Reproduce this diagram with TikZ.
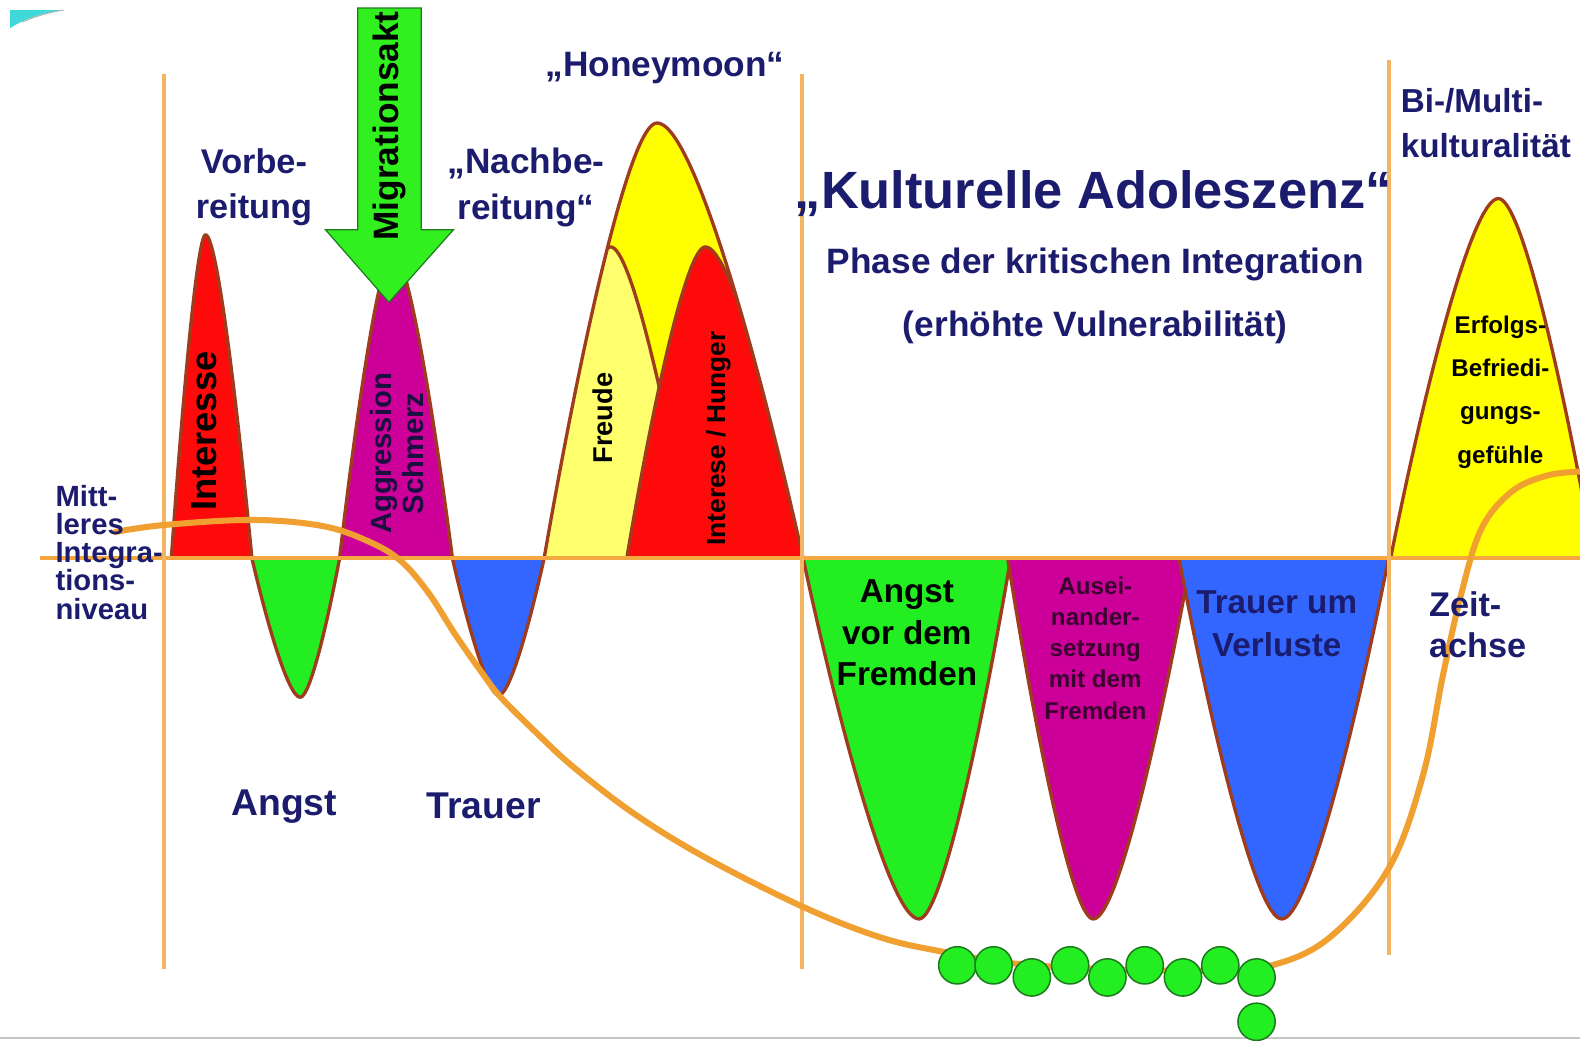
\documentclass[tikz,border=0pt]{standalone}
\usepackage{fontspec}
\setmainfont{Liberation Sans}
\definecolor{navy}{HTML}{1C1C6E}
\definecolor{edge}{HTML}{A03C1E}
\definecolor{curvecol}{HTML}{F0A030}
\definecolor{vlinecol}{HTML}{F3B562}
\definecolor{axiscol}{HTML}{F5A742}
\definecolor{hred}{HTML}{FF0A0A}
\definecolor{hgreen}{HTML}{22EE22}
\definecolor{hmag}{HTML}{CC0099}
\definecolor{hblue}{HTML}{3366FF}
\definecolor{hyel}{HTML}{FFFF00}
\definecolor{hlyel}{HTML}{FFFF6E}
\definecolor{circedge}{HTML}{1E7A1E}
\definecolor{ausc}{HTML}{3A0030}
\definecolor{aggc}{HTML}{1A1040}
\definecolor{swoosh}{HTML}{40D8D8}
\newcommand\myfs[2]{\fontsize{#1}{#2}\selectfont\bfseries}
\newcommand\hump[4]{(#1,554) .. controls ({#1+0.3*(#2-#1)},{554+0.45*(#3-554)}) and ({#1+0.75*(#2-#1)},#3) .. (#2,#3) .. controls ({#2+0.25*(#4-#2)},#3) and ({#4-0.3*(#4-#2)},{554+0.45*(#3-554)}) .. (#4,554)}
\tikzset{
  outl/.style={draw=edge, line width=3.3, line join=round},
  vline/.style={draw=vlinecol, line width=4},
  txt/.style={inner sep=0, align=center, text=navy},
  dot/.style={circle, draw=circedge, line width=1.5, fill=hgreen, minimum size=37, inner sep=0},
}
\begin{document}
\begin{tikzpicture}[x=1pt, y=-1pt]
\useasboundingbox (0,0) rectangle (1568,1033);
\fill[white] (0,0) rectangle (1568,1033);
\begin{scope}
\clip (0,0) rectangle (1568,1033);
% swoosh
\fill[swoosh] (10,10) -- (63,10) .. controls (40,13) and (22,20) .. (10,28) -- cycle;
\draw[gray!60, line width=1] (22,22) .. controls (35,16) and (50,12) .. (63,10);
\draw[gray!45, line width=2] (0,1030) -- (1568,1030);
% early humps
\path[fill=hred, outl] \hump{170}{204}{233}{250};
\path[fill=hgreen, outl] \hump{250}{298}{692}{337};
\path[fill=hmag, outl] \hump{337}{390}{250}{449};
\path[fill=hblue, outl] \hump{449}{495}{690}{540};
% honeymoon
\path[fill=hyel] \hump{540}{652}{122}{797};
\begin{scope}
\clip \hump{540}{652}{122}{797};
\path[fill=hlyel, outl] \hump{536}{606}{245}{688};
\path[fill=hred, outl] \hump{622}{700}{245}{800};
\end{scope}
\path[outl] \hump{540}{652}{122}{797};
% kulturelle adoleszenz troughs
\path[fill=hgreen, outl] \hump{797}{912}{912}{1003};
\path[fill=hmag, outl] \hump{1000}{1085}{912}{1182};
\path[fill=hblue, outl] \hump{1170}{1272}{912}{1378};
% right hump
\path[fill=hyel, outl] \hump{1380}{1487}{197}{1582};
% axis
\draw[draw=axiscol, line width=4] (40,554) -- (1568,554);
% vertical lines
\coordinate (v1t) at (163,73); \coordinate (v1b) at (163,962);
\coordinate (v2t) at (796,73); \coordinate (v2b) at (796,962);
\coordinate (v3t) at (1378,60); \coordinate (v3b) at (1378,948);
\draw[vline] (v1t) -- (v1b);
\draw[vline] (v2t) -- (v2b);
\draw[vline] (v3t) -- (v3b);
% integration curve
\draw[curvecol, line width=6, line cap=round] plot[smooth, tension=0.6] coordinates {
 (114,528) (163,521) (251,516) (320,522) (365,537) (397,556) (425,588) (452,630)
 (480,670) (497,692) (530,725) (570,762) (630,808) (700,851) (797,900) (873,930)
 (933,944) (1005,956) (1100,962) (1200,963) (1262,958) (1320,930)
 (1378,862) (1412,770) (1432,670) (1450,590) (1470,525) (1500,488)
 (1535,472) (1568,468)};
% circles
\node[dot] (c1) at (950,958) {};
\node[dot] (c2) at (986,958) {};
\node[dot] (c3) at (1024,970) {};
\node[dot] (c4) at (1062,958) {};
\node[dot] (c5) at (1099,970) {};
\node[dot] (c6) at (1136,958) {};
\node[dot] (c7) at (1174,970) {};
\node[dot] (c8) at (1211,958) {};
\node[dot] (c9) at (1247,970) {};
\node[dot] (c10) at (1247,1014) {};
% migration arrow
\path[fill=hgreen!90!lime, draw=circedge, line width=1.2, line join=miter]
 (355,8) -- (418,8) -- (418,228) -- (450,228) -- (386,300) -- (323,228) -- (355,228) -- cycle;
\end{scope}
% texts
\node[txt, font=\myfs{34}{45}] (vorb) at (252,186) {Vorbe-\\reitung};
\node[txt, font=\myfs{35}{45}] (nach) at (522,186) {„Nachbe-\\reitung“};
\node[txt, font=\myfs{35}{42}] (honey) at (660,68) {„Honeymoon“};
\node[txt, font=\myfs{52}{60}] (kult) at (1085,192) {„Kulturelle Adoleszenz“};
\node[txt, font=\myfs{35}{42}] (phase) at (1087,262) {Phase der kritischen Integration};
\node[txt, font=\myfs{35}{42}] (vuln) at (1087,325) {(erhöhte Vulnerabilität)};
\node[txt, font=\myfs{33}{45}, align=left, anchor=west] (bimu) at (1390,122) {Bi-/Multi-\\kulturalität};
\node[txt, font=\myfs{29}{28}, align=left, anchor=west] (mitt) at (55,548) {Mitt-\\leres\\Integra-\\tions-\\niveau};
\node[txt, font=\myfs{37}{44}] (angst) at (282,800) {Angst};
\node[txt, font=\myfs{37}{44}] (trauer) at (480,800) {Trauer};
\node[txt, font=\myfs{34}{40}, align=left, anchor=west] (zeit) at (1418,620) {Zeit-\\achse};
\node[txt, text=black, rotate=90, font=\myfs{36}{40}] (inter) at (203,428) {Interesse};
\node[txt, text=aggc, rotate=90, font=\myfs{29}{31}] (aggr) at (394,450) {Aggression\\Schmerz};
\node[txt, text=black, rotate=90, font=\myfs{27}{30}] (freu) at (598,415) {Freude};
\node[txt, text=black, rotate=90, font=\myfs{26}{30}] (hung) at (713,435) {Interese / Hunger};
\node[txt, text=black, rotate=90, font=\myfs{35}{40}] (migr) at (386,125) {Migrationsakt};
\node[txt, text=black, font=\myfs{33}{41}] (avdf) at (900,628) {Angst\\vor dem\\Fremden};
\node[txt, text=ausc, font=\myfs{24}{31}] (ausei) at (1087,643) {Ausei-\\nander-\\setzung\\mit dem\\Fremden};
\node[txt, font=\myfs{33}{42}] (tuv) at (1267,619) {Trauer um\\Verluste};
\node[txt, text=black, font=\myfs{24}{43}] (erf) at (1489,389) {Erfolgs-\\Befriedi-\\gungs-\\gefühle};
\end{tikzpicture}
\end{document}
